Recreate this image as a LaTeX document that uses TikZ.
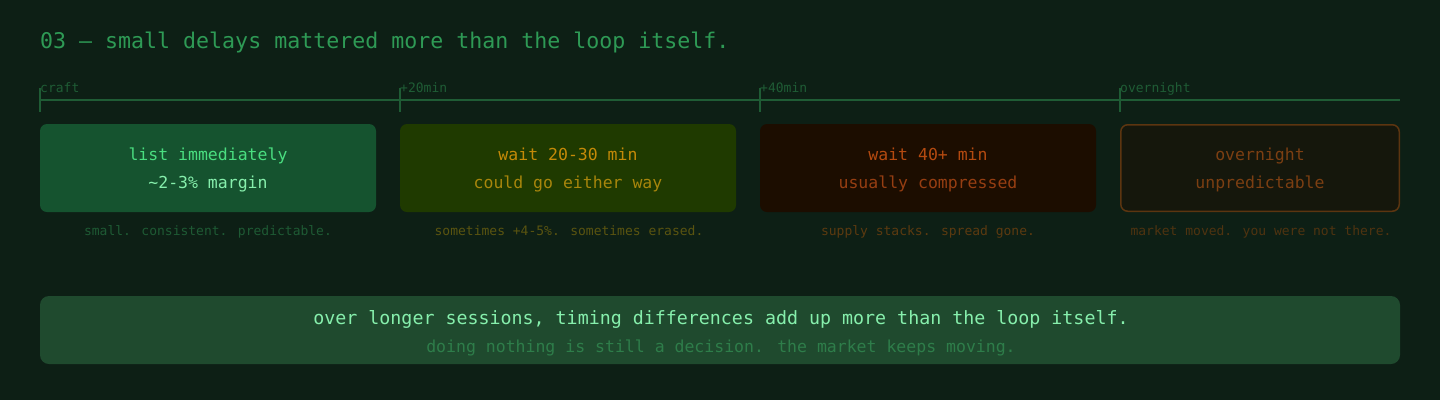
\documentclass[tikz,border=0pt]{standalone}
\usepackage{fontspec}
\setmainfont{DejaVu Sans Mono}
\usepackage{tikz}

\definecolor{bgdark}{HTML}{0D1F15}
\definecolor{titlegreen}{HTML}{2E9A55}
\definecolor{axisgreen}{HTML}{1F5C35}
\definecolor{boxgreen}{HTML}{15532F}
\definecolor{boxolive}{HTML}{1F3A00}
\definecolor{boxrust}{HTML}{1C0D00}
\definecolor{boxnight}{HTML}{15170C}
\definecolor{edgenight}{HTML}{5C3510}
\definecolor{txtgreenA}{HTML}{4ADE80}
\definecolor{txtgreenB}{HTML}{86EFAC}
\definecolor{txtoliveA}{HTML}{C48A08}
\definecolor{txtoliveB}{HTML}{A8860C}
\definecolor{txtrustA}{HTML}{B44A10}
\definecolor{txtrustB}{HTML}{963E12}
\definecolor{txtnight}{HTML}{7C3F12}
\definecolor{capgreen}{HTML}{1E5A34}
\definecolor{capolive}{HTML}{5A5410}
\definecolor{caprust}{HTML}{5C3A10}
\definecolor{capnight}{HTML}{4F3310}
\definecolor{summarybox}{HTML}{1F4A2E}
\definecolor{summarysub}{HTML}{2E7D4A}

\begin{document}
\begin{tikzpicture}[x=1pt, y=-1pt,
    phase/.style ={rounded corners=7pt},
    headline/.style ={anchor=base, font=\fontsize{16.5}{20}\selectfont},
    caption/.style ={anchor=base, font=\fontsize{13}{16}\selectfont},
    ticklabel/.style ={anchor=base west, inner sep=0pt, text=axisgreen, font=\fontsize{13}{16}\selectfont}]
   \fill[bgdark] (0,0) rectangle (1440,400);
   \useasboundingbox (0,0) rectangle (1440,400);

   \node[anchor=base west, inner sep=0pt, text=titlegreen, font=\fontsize{21.6}{26}\selectfont] (title) at (40,48) {03 — small delays mattered more than the loop itself.};

   % timeline
   \coordinate (axisL) at (40,100);
   \coordinate (axisR) at (1400,100);
   \draw[axisgreen, line width=2pt] (axisL) -- (axisR);
   \foreach \x/\lbl/\nm in {40/craft/tA, 400/+20min/tB, 760/+40min/tC, 1120/overnight/tD} {
     \draw[axisgreen, line width=1.5pt] (\x,88) -- (\x,112);
     \node[ticklabel] (\nm) at (\x,92) {\lbl};
   }

   % phases
   \fill[phase, boxgreen] (40,124) rectangle (376,212);
   \fill[phase, boxolive] (400,124) rectangle (736,212);
   \fill[phase, boxrust] (760,124) rectangle (1096,212);
   \draw[phase, fill=boxnight, draw=edgenight, line width=1.5pt] (1120.75,124.75) rectangle (1399.25,211.25);

   \node[headline, text=txtgreenA] (listA) at (208,160) {list immediately};
   \node[headline, text=txtgreenB] (listB) at (208,188) {\textasciitilde2-3\% margin};
   \node[headline, text=txtoliveA] (waitA) at (568,160) {wait 20-30 min};
   \node[headline, text=txtoliveB] (waitB) at (568,188) {could go either way};
   \node[headline, text=txtrustA] (lateA) at (928,160) {wait 40+ min};
   \node[headline, text=txtrustB] (lateB) at (928,188) {usually compressed};
   \node[headline, text=txtnight] (nightA) at (1260,160) {overnight};
   \node[headline, text=txtnight] (nightB) at (1260,188) {unpredictable};

   \node[caption, text=capgreen] (listC) at (208,235) {small. consistent. predictable.};
   \node[caption, text=capolive] (waitC) at (569,235) {sometimes +4-5\%. sometimes erased.};
   \node[caption, text=caprust] (lateC) at (928,235) {supply stacks. spread gone.};
   \node[caption, text=capnight] (nightC) at (1261,235) {market moved. you were not there.};

   % summary
   \fill[rounded corners=9pt, summarybox] (40,296) rectangle (1400,364);
   \node[anchor=base, text=txtgreenB, font=\fontsize{18.3}{22}\selectfont] (sumA) at (721,324) {over longer sessions, timing differences add up more than the loop itself.};
   \node[anchor=base, text=summarysub, font=\fontsize{16.5}{20}\selectfont] (sumB) at (721,352) {doing nothing is still a decision. the market keeps moving.};

 \end{tikzpicture}
\end{document}
